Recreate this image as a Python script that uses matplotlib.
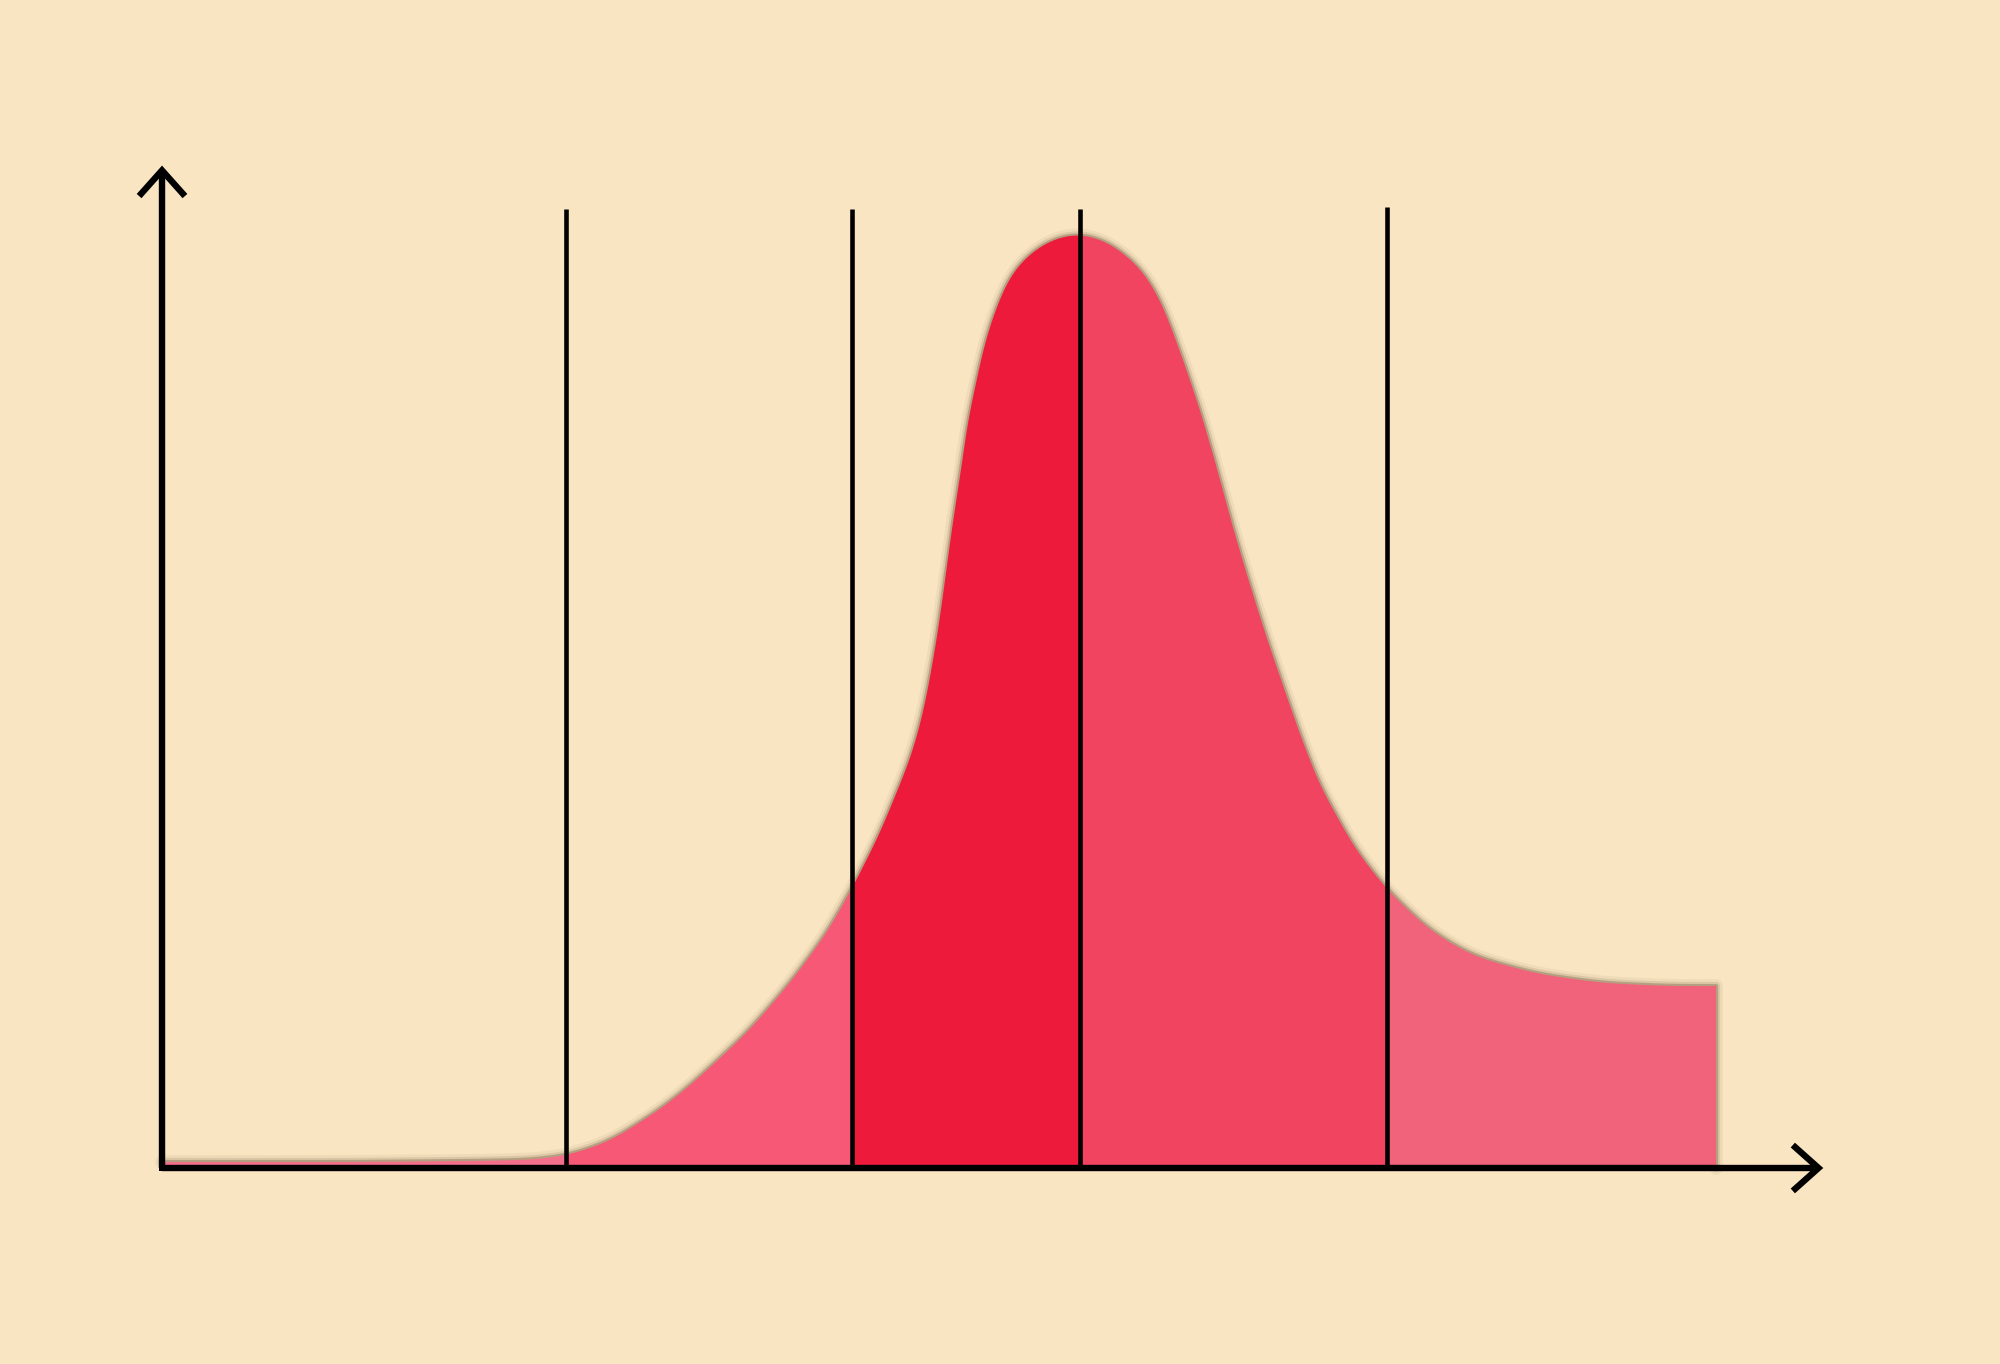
import numpy as np
import matplotlib
matplotlib.use('Agg')
import matplotlib.pyplot as plt
from matplotlib.patches import Rectangle, FancyArrowPatch, Polygon

# ---- data (abstract units: x 0..100 along the axis, y 0..100 to the peak) ----
curve_x = [0, 12, 20, 23.4, 24.32, 26.06, 28.89, 32.37, 34.17, 37.64, 40.41, 42.79,
           44.59, 46.20, 47.94, 48.33, 48.91, 49.36, 49.87, 50.26, 50.64, 51.03,
           51.48, 51.87, 52.38, 52.83, 53.35, 54.05, 54.76, 56.05, 57.47, 59.07,
           60.36, 61.45, 63.13, 64.35, 65.64, 66.86, 67.95, 68.92, 70.01, 71.17,
           72.39, 73.36, 74.52, 76.77, 78.83, 81.53, 84.30, 88.48, 92.66, 96.85, 100]
curve_y = [0.64, 0.64, 0.75, 0.85, 0.96, 1.28, 2.88, 6.62, 9.08, 14.42, 19.76, 25.11,
           30.45, 35.79, 42.84, 44.66, 48.18, 51.82, 56.73, 61.22, 66.03, 70.51,
           75.32, 79.91, 83.87, 87.39, 90.38, 93.48, 95.94, 98.08, 99.47, 100,
           99.36, 98.40, 95.94, 92.41, 86.65, 80.66, 74.36, 68.38, 62.29, 56.20,
           50.32, 45.73, 40.81, 34.08, 29.70, 25.43, 22.65, 20.73, 19.76, 19.44, 19.44]
region_edges = [0, 26.0, 44.4, 59.1, 78.8, 100]
line_x = [26.0, 44.4, 59.1, 78.8]
line_top = [102.5, 102.5, 102.5, 102.7]
axis_end_x = 106.9
axis_end_y = 107.1

bg = '#FAE5C2'
region_colors = ['#F4708A', '#F65875', '#EE1A3C', '#F04461', '#F0637A']

fig = plt.figure(figsize=(20, 13.64), dpi=100)
fig.patch.set_facecolor(bg)
ax = fig.add_axes([0, 0, 1, 1])
ax.set_facecolor(bg)
ax.set_xlim(-10.425, 118.27)
ax.set_ylim(-20.94, 124.79)
ax.axis('off')

pts = np.column_stack([curve_x, curve_y]).astype(float)


def smooth_outline(points, sigma_px=17.0):
    """Draw-time smoothing: walk the read points along their on-screen arc length
    and soften reading jitter with a small Gaussian; ends stay where they are."""
    disp = ax.transData.transform(points)
    seg = np.hypot(*np.diff(disp, axis=0).T)
    s = np.concatenate([[0.0], np.cumsum(seg)])
    ss = np.append(np.arange(0.0, s[-1], 1.0), s[-1])
    xs = np.interp(ss, s, disp[:, 0])
    ys = np.interp(ss, s, disp[:, 1])
    half = int(4 * sigma_px)
    k = np.exp(-0.5 * (np.arange(-half, half + 1) / sigma_px) ** 2)
    k /= k.sum()
    xs_s = np.convolve(np.pad(xs, half, mode='edge'), k, mode='valid')
    ys_s = np.convolve(np.pad(ys, half, mode='edge'), k, mode='valid')
    xs_s[0], ys_s[0] = xs[0], ys[0]
    xs_s[-1], ys_s[-1] = xs[-1], ys[-1]
    return ax.transData.inverted().transform(np.column_stack([xs_s, ys_s]))


smooth = smooth_outline(pts)
area = np.vstack([[smooth[0, 0], 0.0], smooth, [smooth[-1, 0], 0.0]])
outline = np.vstack([smooth, [smooth[-1, 0], 0.0]])

# soft shadow around the curve outline
for lw, al in [(10, 0.06), (6, 0.14), (3, 0.30)]:
    ax.plot(outline[:, 0], outline[:, 1], color='#5c4a2c', lw=lw, alpha=al, zorder=1,
            solid_joinstyle='round', solid_capstyle='round')

# coloured regions under the curve
for a, b, c in zip(region_edges[:-1], region_edges[1:], region_colors):
    patch = Polygon(area, closed=True, facecolor=c, edgecolor='none', lw=0, zorder=2)
    ax.add_patch(patch)
    patch.set_clip_path(Rectangle((a, -5), b - a, 130, transform=ax.transData))

# vertical divider lines
ax.vlines(line_x, 0, line_top, color='black', lw=3.3, zorder=3)

# axes with open arrow heads
for end in [(axis_end_x, 0), (0, axis_end_y)]:
    arr = FancyArrowPatch((0, 0), end,
                          arrowstyle='->,head_length=18.5,head_width=16.5',
                          mutation_scale=1, lw=4.6, color='black', zorder=4,
                          shrinkA=0, shrinkB=0, joinstyle='miter', capstyle='butt')
    ax.add_patch(arr)
ax.plot([0], [0], marker='s', ms=4.6, mew=0, color='black', zorder=4)

fig.savefig('out.png', dpi=100, facecolor=bg)
